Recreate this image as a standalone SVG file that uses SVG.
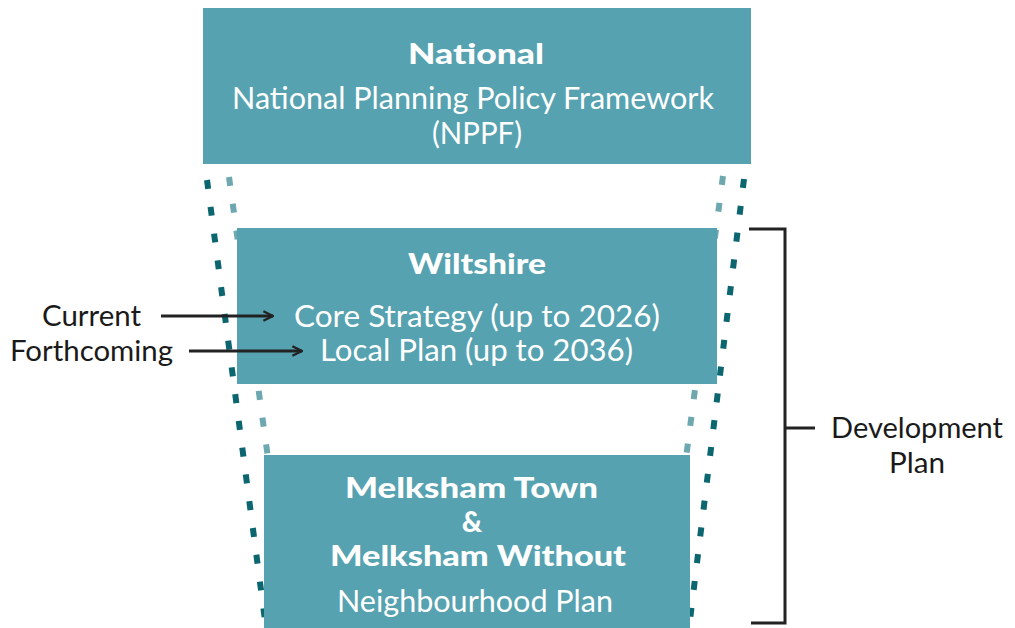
<svg xmlns="http://www.w3.org/2000/svg" width="1015" height="628" viewBox="0 0 1015 628">
<style>
.box{fill:#56A2B0}
.t{font-family:Lato,"Liberation Sans",sans-serif;fill:#fff;text-anchor:middle;font-size:30px}
.b{font-weight:900;font-size:28px}
.k{font-family:Lato,"Liberation Sans",sans-serif;fill:#1a1a1a;font-size:29px}
.dd{stroke:#0B6670;stroke-width:6;stroke-dasharray:9 18;fill:none}
.dl{stroke:#6DA8B0;stroke-width:6;stroke-dasharray:9 18;fill:none}
.ar{stroke:#222;stroke-width:3;fill:none}
</style>
<defs>
<marker id="ah" viewBox="0 0 10 10" refX="9" refY="5" markerWidth="4" markerHeight="4" orient="auto" markerUnits="strokeWidth">
<path d="M1,1 L9,5 L1,9" fill="none" stroke="#222" stroke-width="2"/>
</marker>
</defs>
<g id="guides">
<path class="dd" d="M207,180 L266,628"/>
<path class="dd" d="M744,179 L689,628"/>
<path class="dl" d="M229,177 L268,458"/>
<path class="dl" d="M723,176 L686,458"/>
</g>
<g id="national">
<rect class="box" x="203" y="8" width="548" height="156"/>
<text class="t b" x="476" y="64" textLength="136" lengthAdjust="spacingAndGlyphs">National</text>
<text class="t" x="473" y="109" textLength="482" lengthAdjust="spacingAndGlyphs">National Planning Policy Framework</text>
<text class="t" x="477" y="144" textLength="90" lengthAdjust="spacingAndGlyphs">(NPPF)</text>
</g>
<g id="wiltshire">
<rect class="box" x="237" y="228" width="480" height="156"/>
<text class="t b" x="477" y="274" textLength="138" lengthAdjust="spacingAndGlyphs">Wiltshire</text>
<text class="t" x="477" y="327" textLength="366" lengthAdjust="spacingAndGlyphs">Core Strategy (up to 2026)</text>
<text class="t" x="476.5" y="361" textLength="313" lengthAdjust="spacingAndGlyphs">Local Plan (up to 2036)</text>
</g>
<g id="melksham">
<rect class="box" x="264" y="455" width="426" height="173"/>
<text class="t b" x="471.5" y="498" textLength="253" lengthAdjust="spacingAndGlyphs">Melksham Town</text>
<text class="t b" x="472" y="532">&amp;</text>
<text class="t b" x="478" y="566" textLength="296" lengthAdjust="spacingAndGlyphs">Melksham Without</text>
<text class="t" x="475" y="612" textLength="276" lengthAdjust="spacingAndGlyphs">Neighbourhood Plan</text>
</g>
<g id="connectors">
<path class="ar" d="M161,316 L273,316" marker-end="url(#ah)"/>
<path class="ar" d="M189,351 L302,351" marker-end="url(#ah)"/>
<path class="ar" d="M749,229 L785,229 L785,623 L751,623 M785,428 L815,428" stroke-width="2.5"/>
</g>
<g id="labels">
<text class="k" x="42" y="326" textLength="99" lengthAdjust="spacingAndGlyphs">Current</text>
<text class="k" x="10" y="361" textLength="163" lengthAdjust="spacingAndGlyphs">Forthcoming</text>
<text class="k" x="831" y="438" textLength="172" lengthAdjust="spacingAndGlyphs">Development</text>
<text class="k" x="889" y="473" textLength="56" lengthAdjust="spacingAndGlyphs">Plan</text>
</g>
</svg>
